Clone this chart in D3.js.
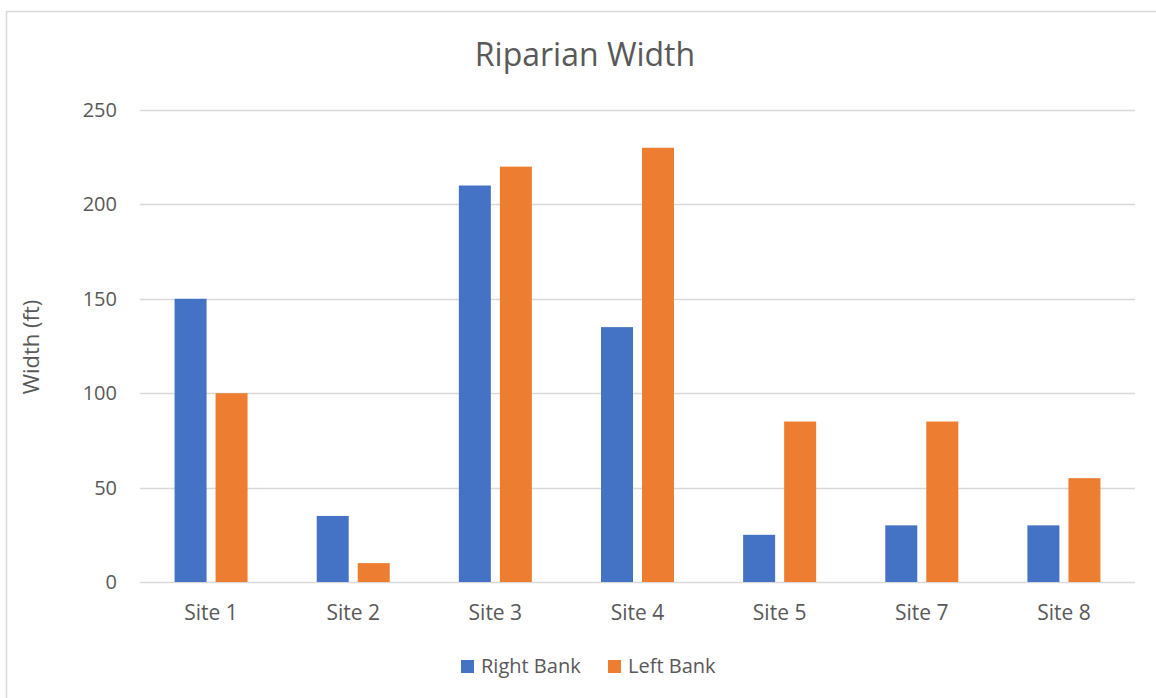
<!DOCTYPE html>
<meta charset="utf-8">
<style>
body { margin: 0; background: #fff; }
svg text { font-family: "Open Sans", "Noto Sans", sans-serif; fill: #595959; }
</style>
<svg width="1156" height="698"></svg>
<script src="https://d3js.org/d3.v7.min.js"></script>
<script>

var sites = ["Site 1", "Site 2", "Site 3", "Site 4", "Site 5", "Site 7", "Site 8"];
var seriesNames = ["Right Bank", "Left Bank"];
var rightBank = [150, 35, 210, 135, 25, 30, 30];
var leftBank = [100, 10, 220, 230, 85, 85, 55];
var yTicks = [0, 50, 100, 150, 200, 250];
var colors = ["#4472c4", "#ed7d31"];

var svg = d3.select("svg");

// outer chart border (runs off the right/bottom edge)
svg.append("rect")
    .attr("x", 6.5).attr("y", 11.5)
    .attr("width", 1200).attr("height", 800)
    .attr("fill", "none")
    .attr("stroke", "#d9d9d9")
    .attr("stroke-width", 1.5);

var margin = {left: 140, right: 1135, top: 110, bottom: 582};

var x0 = d3.scaleBand().domain(sites).range([margin.left, margin.right]).padding(0);
var groupW = 73;
var x1 = d3.scaleBand().domain(seriesNames).range([0, groupW]).paddingInner(0.22);
var y = d3.scaleLinear().domain([0, 250]).range([margin.bottom, margin.top]);

// gridlines
svg.append("g").selectAll("line")
    .data(yTicks)
    .enter().append("line")
      .attr("x1", margin.left).attr("x2", margin.right)
      .attr("y1", function(d) { return Math.round(y(d)) + 0.5; })
      .attr("y2", function(d) { return Math.round(y(d)) + 0.5; })
      .attr("stroke", "#d9d9d9")
      .attr("stroke-width", 1.3);

// y tick labels
svg.append("g").selectAll("text")
    .data(yTicks)
    .enter().append("text")
      .attr("x", 117)
      .attr("y", function(d) { return y(d); })
      .attr("dy", "0.35em")
      .attr("text-anchor", "end")
      .style("font-size", "20px")
      .text(function(d) { return d; });

var table = sites.map(function(s, i) {
  return {site: s, values: [rightBank[i], leftBank[i]]};
});

var group = svg.append("g").selectAll("g")
    .data(table)
    .enter().append("g")
      .attr("transform", function(d) {
        return "translate(" + (x0(d.site) + x0.bandwidth() / 2 - groupW / 2) + ",0)";
      });

group.selectAll("rect")
    .data(function(d) { return d.values.map(function(v, j) { return {name: seriesNames[j], value: v, j: j}; }); })
    .enter().append("rect")
      .attr("x", function(d) { return x1(d.name); })
      .attr("width", x1.bandwidth())
      .attr("y", function(d) { return y(d.value); })
      .attr("height", function(d) { return y(0) - y(d.value); })
      .attr("fill", function(d) { return colors[d.j]; });

// x labels
svg.append("g").selectAll("text")
    .data(sites)
    .enter().append("text")
      .attr("x", function(d) { return x0(d) + x0.bandwidth() / 2; })
      .attr("y", 620)
      .attr("text-anchor", "middle")
      .style("font-size", "21px")
      .text(function(d) { return d; });

// title
svg.append("text")
    .attr("x", 585).attr("y", 66)
    .attr("text-anchor", "middle")
    .style("font-size", "32px")
    .text("Riparian Width");

// axis title
svg.append("text")
    .attr("transform", "translate(39,347) rotate(-90)")
    .attr("text-anchor", "middle")
    .style("font-size", "22px")
    .text("Width (ft)");

// legend
var legendX = [461, 608];
var legend = svg.append("g").selectAll("g")
    .data(seriesNames)
    .enter().append("g")
      .attr("transform", function(d, i) { return "translate(" + legendX[i] + ",660)"; });

legend.append("rect")
    .attr("width", 13).attr("height", 13)
    .attr("fill", function(d, i) { return colors[i]; });

legend.append("text")
    .attr("x", 20).attr("y", 13)
    .style("font-size", "20px")
    .text(function(d) { return d; });

</script>
